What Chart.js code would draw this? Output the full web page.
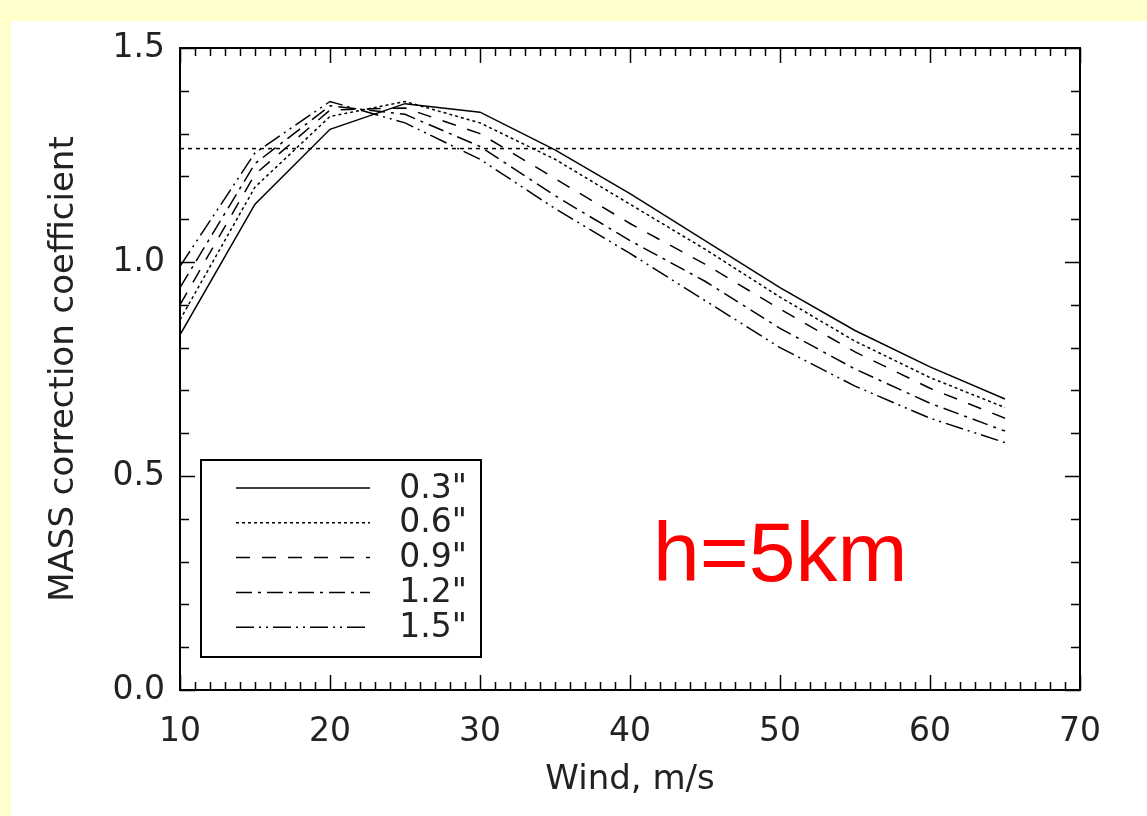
<!DOCTYPE html>
<html>
<head>
<meta charset="utf-8">
<title>MASS correction coefficient, h=5km</title>
<script src="https://cdn.jsdelivr.net/npm/chart.js@4/dist/chart.umd.min.js"></script>
<style>
  html, body { margin: 0; padding: 0; background: #ffffcc; }
  #wrap { position: absolute; left: 11px; top: 21px; width: 1136px; height: 795px; background: #fff; }
</style>
</head>
<body>
<div id="wrap"><canvas id="mass"></canvas></div>
<script>
// wind speed, m/s
const windSpeeds = [10, 15, 20, 25, 30, 35, 40, 45, 50, 55, 60, 65]
// correction coefficient for each seeing value
const seeing03 = [0.83, 1.135, 1.31, 1.37, 1.35, 1.262, 1.16, 1.05, 0.94, 0.84, 0.755, 0.68]
const seeing06 = [0.865, 1.175, 1.34, 1.375, 1.325, 1.24, 1.135, 1.03, 0.918, 0.815, 0.73, 0.66]
const seeing09 = [0.9, 1.205, 1.355, 1.36, 1.3, 1.195, 1.09, 0.995, 0.89, 0.79, 0.705, 0.635]
const seeing12 = [0.94, 1.23, 1.365, 1.345, 1.27, 1.155, 1.05, 0.955, 0.845, 0.75, 0.67, 0.605]
const seeing15 = [0.99, 1.255, 1.375, 1.325, 1.24, 1.125, 1.02, 0.91, 0.8, 0.71, 0.635, 0.578]
const seriesLabels = ['0.3"', '0.6"', '0.9"', '1.2"', '1.5"']
// horizontal reference level
const refLevel = 1.265
const refRange = [10, 70]

const dashes = [[], [3, 3], [14, 12], [16, 6, 3, 6], [18, 5, 2, 5, 2, 5]]

const toPoints = (ys) => windSpeeds.map((x, i) => ({ x: x, y: ys[i] }))

const onPageLoad = () => {
  Chart.defaults.font.family = 'DejaVu Sans'
  Chart.defaults.color = '#222'

  const series = [seeing03, seeing06, seeing09, seeing12, seeing15]
  const datasets = series.map((ys, i) => ({
    label: seriesLabels[i],
    data: toPoints(ys),
    borderColor: '#000',
    borderWidth: 1.5,
    borderDash: dashes[i],
    pointRadius: 0,
    tension: 0,
    fill: false,
  }))
  datasets.push({
    label: 'ref',
    data: refRange.map((x) => ({ x: x, y: refLevel })),
    borderColor: '#000',
    borderWidth: 1.5,
    borderDash: [4, 4],
    pointRadius: 0,
    fill: false,
  })

  // IDL style frame: inward ticks on all four sides, legend box, label
  const framePlugin = {
    id: 'frame',
    afterDatasetsDraw(chart) {
      const ctx = chart.ctx
      const a = chart.chartArea
      const xs = chart.scales.x
      const ys = chart.scales.y
      ctx.save()
      ctx.strokeStyle = '#000'
      ctx.lineWidth = 2
      ctx.strokeRect(a.left, a.top, a.right - a.left, a.bottom - a.top)
      ctx.lineWidth = 1.5
      ctx.beginPath()
      for (let v = 10; v <= 70; v++) {
        const px = Math.round(xs.getPixelForValue(v)) + 0.5
        const len = v % 10 === 0 ? 15 : 8
        ctx.moveTo(px, a.bottom); ctx.lineTo(px, a.bottom - len)
        ctx.moveTo(px, a.top); ctx.lineTo(px, a.top + len)
      }
      for (let i = 0; i <= 15; i++) {
        const py = Math.round(ys.getPixelForValue(i / 10)) + 0.5
        const len = i % 5 === 0 ? 15 : 9
        ctx.moveTo(a.left, py); ctx.lineTo(a.left + len, py)
        ctx.moveTo(a.right, py); ctx.lineTo(a.right - len, py)
      }
      ctx.stroke()

      // legend
      ctx.lineWidth = 2
      ctx.strokeRect(190, 439, 280, 197)
      ctx.font = '33px "DejaVu Sans"'
      ctx.fillStyle = '#222'
      ctx.textAlign = 'right'
      ctx.textBaseline = 'middle'
      seriesLabels.forEach((lab, i) => {
        const y = 467 + i * 34.8
        ctx.beginPath()
        ctx.lineWidth = 1.5
        ctx.setLineDash(dashes[i])
        ctx.moveTo(225, y); ctx.lineTo(359, y)
        ctx.stroke()
        ctx.setLineDash([])
        ctx.fillText(lab, 456, y + 1)
      })

      ctx.font = '84px "Liberation Sans"'
      ctx.fillStyle = '#ff0000'
      ctx.textAlign = 'left'
      ctx.textBaseline = 'alphabetic'
      ctx.fillText('h=5km', 642, 560)
      ctx.restore()
    },
  }

  new Chart(document.getElementById('mass'), {
    type: 'line',
    data: { datasets: datasets },
    options: {
      responsive: true,
      maintainAspectRatio: false,
      animation: false,
      layout: { padding: { top: 27, right: 67, left: 0, bottom: 0 } },
      plugins: { legend: { display: false }, tooltip: { enabled: false } },
      scales: {
        x: {
          type: 'linear',
          min: 10,
          max: 70,
          grid: { display: false, drawTicks: false, tickLength: 0 },
          border: { display: false },
          ticks: { stepSize: 10, padding: 23, font: { size: 33 }, maxRotation: 0 },
          title: { display: true, text: 'Wind, m/s', font: { size: 34 }, padding: { top: 0, bottom: 15 } },
          afterFit(scale) {
            scale.height = 126
            scale.paddingLeft = 0
            scale.paddingRight = 0
          },
        },
        y: {
          min: 0,
          max: 1.5,
          grid: { display: false, drawTicks: false, tickLength: 0 },
          border: { display: false },
          ticks: { stepSize: 0.5, padding: 15, font: { size: 33 }, callback: (v) => v.toFixed(1) },
          title: { display: true, text: 'MASS correction coefficient', font: { size: 34 }, padding: { top: 33, bottom: 0 } },
          afterFit(scale) {
            scale.width = 169
            scale.paddingTop = 0
            scale.paddingBottom = 0
          },
        },
      },
    },
    plugins: [framePlugin],
  })
}

document.addEventListener('DOMContentLoaded', onPageLoad)
</script>
</body>
</html>
